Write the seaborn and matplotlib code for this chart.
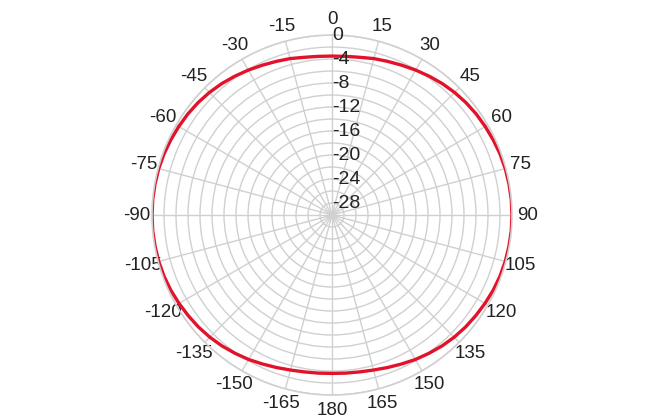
import numpy as np
import matplotlib
matplotlib.use("Agg")
import matplotlib.pyplot as plt
import seaborn as sns

# antenna pattern, gain in dB vs azimuth in degrees (every 5 deg, -180..180)
angles_deg = list(range(-180, 181, 5))
gain_db = [-3.6, -3.55, -3.45, -3.25, -2.95, -2.6, -2.2, -1.85, -1.5, -1.2,
           -0.95, -0.75, -0.55, -0.35, -0.2, -0.1, -0.05, 0.0, 0.0, 0.0,
           -0.05, -0.1, -0.2, -0.35, -0.5, -0.65, -0.85, -1.1, -1.4, -1.75,
           -2.1, -2.45, -2.75, -3.0, -3.3, -3.45, -3.5,
           -3.45, -3.3, -3.0, -2.75, -2.45, -2.1, -1.75, -1.4, -1.1, -0.85,
           -0.65, -0.5, -0.35, -0.2, -0.1, -0.05, 0.0, 0.0, 0.0, -0.05,
           -0.1, -0.2, -0.35, -0.55, -0.75, -0.95, -1.2, -1.5, -1.85, -2.2,
           -2.6, -2.95, -3.25, -3.45, -3.55, -3.6]

theta_ticks = list(range(0, 360, 15))
theta_labels = ["0", "15", "30", "45", "60", "75", "90", "105", "120", "135", "150", "165",
                "180", "-165", "-150", "-135", "-120", "-105", "-90", "-75", "-60", "-45", "-30", "-15"]
r_rings = list(range(-28, 1, 2))
r_labels = [str(v) if v % 4 == 0 else "" for v in r_rings]

sns.set_theme(style="white")
plt.rcParams["font.family"] = ["Liberation Sans", "DejaVu Sans"]

fig = plt.figure(figsize=(6.72, 4.2), dpi=100)
ax = fig.add_axes([0.2262, 0.0595, 0.5357, 0.857], projection="polar")
ax.set_theta_zero_location("N")
ax.set_theta_direction(-1)

sns.lineplot(x=np.deg2rad(angles_deg), y=gain_db, ax=ax, sort=False,
             color="#e3122b", linewidth=2.4)

ax.set_ylim(-30, 0)
ax.set_thetagrids(theta_ticks, theta_labels)
ax.set_rgrids(r_rings, [""] * len(r_rings))
for v, lab in zip(r_rings, r_labels):
    if lab:
        ax.text(0, v, lab, ha="left", va="center", fontsize=14, color="#222222")

ax.grid(True, color="#d0d0d0", linewidth=1.0)
ax.spines["polar"].set_color("#d0d0d0")
ax.spines["polar"].set_linewidth(1.2)
ax.tick_params(axis="x", pad=-2, labelsize=13.5, labelcolor="#222222")
ax.set_xlabel("")
ax.set_ylabel("")

fig.savefig("out.png", dpi=100)
